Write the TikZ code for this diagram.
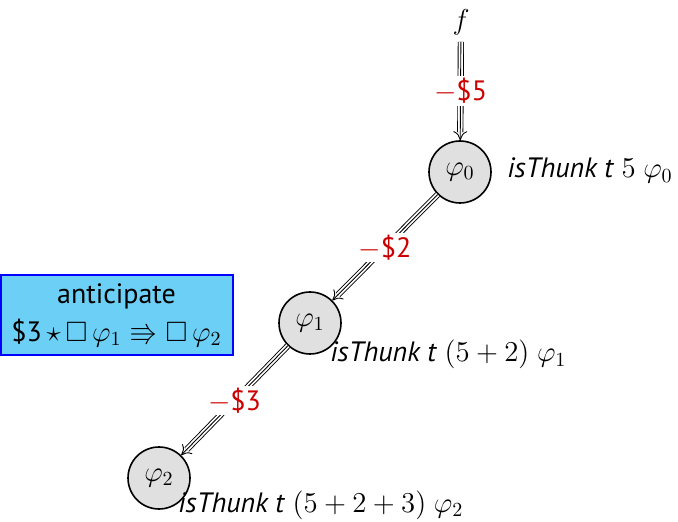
\documentclass[tikz,border=0pt]{standalone}
\usepackage{amssymb}
\usepackage{fontspec}
\setmainfont{PT Sans}
\usetikzlibrary{arrows.meta}
\definecolor{costred}{RGB}{204,0,0}
\definecolor{boxblue}{RGB}{108,207,246}
\begin{document}
\begin{tikzpicture}[x=0.5pt,y=-0.5pt,
  every node/.style={font=\fontsize{14}{17}\selectfont},
  state/.style={circle, draw, line width=0.8pt, fill=black!12, minimum size=31pt, inner sep=0pt},
  trip/.style={double, double distance=2.2pt, line width=0.45pt, shorten >=4pt},
  mid/.style={line width=0.45pt,-{To[length=4.5pt,width=7pt]}},
  cost/.style={midway, fill=white, text=costred, inner sep=1pt},
  lab/.style={anchor=base west, inner sep=0pt},
  antbox/.style={draw=blue, line width=1pt, fill=boxblue, minimum width=116pt, minimum height=40pt, align=center, inner sep=0pt}]
\useasboundingbox (0,0) rectangle (678,522);
\node (f) at (461,22) {\(f\)};
\node[state] (p0) at (460,172) {\(\varphi_0\)};
\node[state] (p1) at (310,323) {\(\varphi_1\)};
\node[state] (p2) at (159,478) {\(\varphi_2\)};
\draw[trip] (f) -- (p0);
\draw[mid] (f) -- (p0) node[cost] {\(-\)\$5};
\draw[trip] (p0) -- (p1);
\draw[mid] (p0) -- (p1) node[cost] {\(-\)\$2};
\draw[trip] (p1) -- (p2);
\draw[mid] (p1) -- (p2) node[cost] {\(-\)\$3};
\node[lab] (l0) at (507,178) {\textit{isThunk t} \(5\ \varphi_0\)};
\node[lab] (l1) at (330,362) {\textit{isThunk t} \((5+2)\ \varphi_1\)};
\node[lab] (l2) at (178,512) {\textit{isThunk t} \((5+2+3)\ \varphi_2\)};
\node[antbox] (ant) at (116.5,315.5) {anticipate\\[2pt] \$3\(\,\star\,\Box\,\varphi_1 \Rrightarrow \Box\,\varphi_2\)};
\end{tikzpicture}
\end{document}
